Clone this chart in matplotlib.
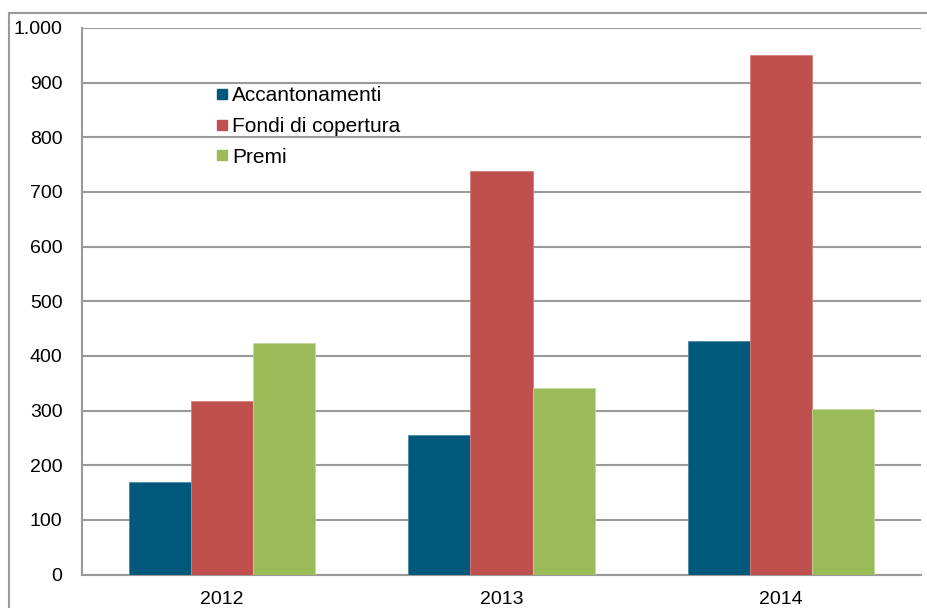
import matplotlib
matplotlib.use("Agg")
import matplotlib.pyplot as plt
import numpy as np
from matplotlib.lines import Line2D
from matplotlib.patches import Rectangle
from matplotlib.ticker import FuncFormatter, MultipleLocator

plt.rcParams['font.family'] = ['Liberation Sans', 'DejaVu Sans']

years = ["2012", "2013", "2014"]
series_names = ["Accantonamenti", "Fondi di copertura", "Premi"]
accantonamenti = [170, 256, 428]
fondi_copertura = [318, 738, 950]
premi = [423, 342, 303]
colors = ["#00587B", "#C0504D", "#9BBB59"]
edge_colors = ["#4D8AA3", "#D4807E", "#C3D79B"]

W, H = 927, 608
fig = plt.figure(figsize=(W / 100, H / 100), dpi=100)
ax = fig.add_axes([82 / W, 1 - 574.5 / H, (921 - 82) / W, (574.5 - 28) / H])

x = np.arange(len(years))
bar_w = 1 / 4.5
for i, vals in enumerate([accantonamenti, fondi_copertura, premi]):
    ax.bar(x + (i - 1) * bar_w, vals, width=bar_w, color=colors[i],
           edgecolor=edge_colors[i], linewidth=0.6, zorder=3)

ax.set_xlim(-0.5, len(years) - 0.5)
ax.set_ylim(0, 1000)
ax.yaxis.set_major_locator(MultipleLocator(100))
ax.yaxis.set_major_formatter(FuncFormatter(lambda v, p: f"{int(v):,}".replace(",", ".")))
ax.grid(axis='y', color='#9A9A9A', linewidth=1.5, zorder=0)
ax.set_axisbelow(True)

for side in ['top', 'right']:
    ax.spines[side].set_visible(False)
for side in ['left', 'bottom']:
    ax.spines[side].set_color('#9A9A9A')
    ax.spines[side].set_linewidth(1.5)

ax.set_xticks(x)
ax.set_xticklabels(years)
ax.tick_params(axis='x', length=0, pad=12, labelsize=14, colors='#000000')
ax.tick_params(axis='y', length=0, pad=14, labelsize=14, colors='#000000')

handles = [Line2D([], [], marker='s', linestyle='none', markersize=7.5,
                  markerfacecolor=c, markeredgecolor=c) for c in colors]
leg = ax.legend(handles, series_names, loc='upper left',
                bbox_to_anchor=(205.5 / W, 1 - 76 / H), bbox_transform=fig.transFigure,
                frameon=False, fontsize=15, borderpad=0, handlelength=0.6,
                handletextpad=0.18, labelspacing=0.56)

# outer chart frame
fig.patches.append(Rectangle((8.5 / W, -0.1), 1.2, 1 - 13.5 / H + 0.1,
                             transform=fig.transFigure, fill=False,
                             edgecolor='#9A9A9A', linewidth=1.5))

fig.savefig("out.png", dpi=100)
